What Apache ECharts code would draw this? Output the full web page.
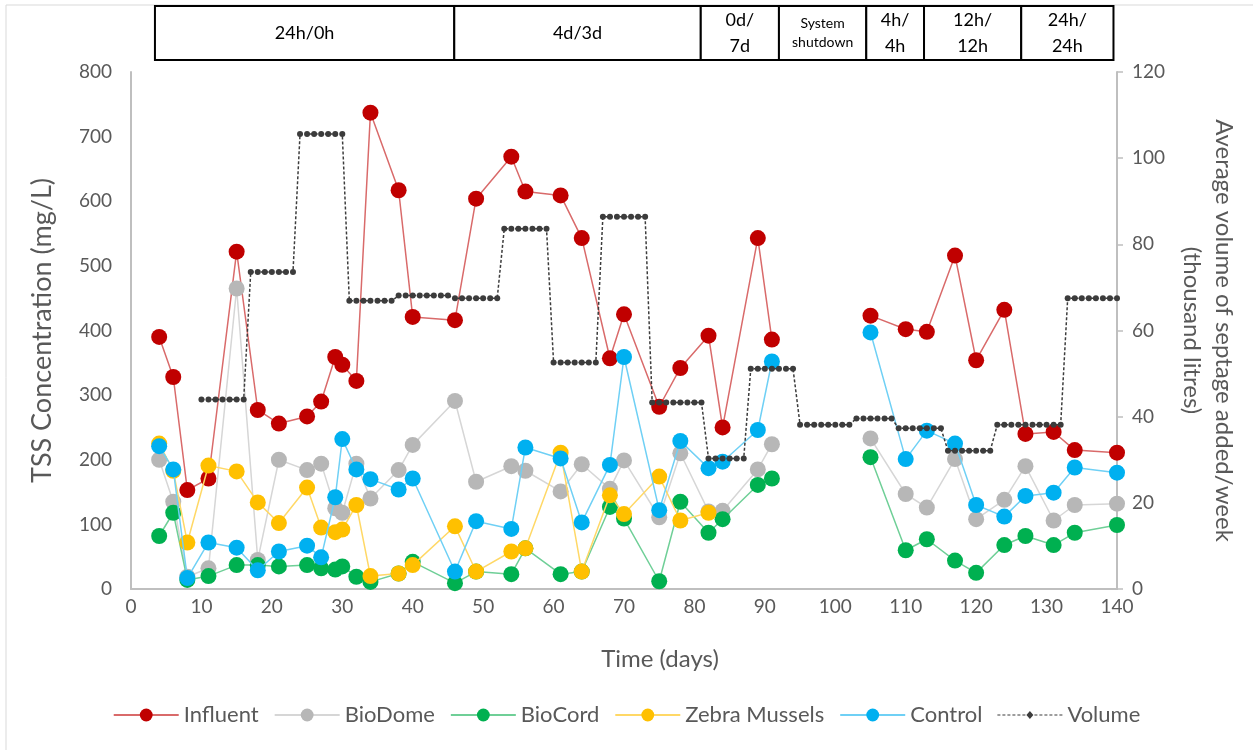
<!DOCTYPE html>
<html>
<head>
<meta charset="utf-8">
<script src="https://cdn.jsdelivr.net/npm/echarts@6/dist/echarts.min.js"></script>
<style>
  html, body { margin: 0; padding: 0; background: #fff; }
  #chart { width: 1253px; height: 750px; }
</style>
</head>
<body>
<div id="chart"></div>
<script>
// Sampling days (days since start-up)
const sampleDays = [4, 6, 8, 11, 15, 18, 21, 25, 27, 29, 30, 32, 34, 38, 40, 46, 49, 54, 56, 61, 64, 68, 70, 75, 78, 82, 84, 89, 91,
                    105, 110, 113, 117, 120, 124, 127, 131, 134, 140];

// TSS concentrations (mg/L)
const influent = [390, 328, 153, 171, 522, 277, 256, 267, 290, 359, 347, 322, 737, 617, 421, 416, 604, 669, 615, 609, 543, 357, 425, 282, 342, 392, 250, 543, 386,
                  423, 402, 398, 516, 354, 432, 240, 243, 215, 211];
const bioDome = [200, 135, 19, 32, 465, 45, 200, 184, 194, 125, 118, 194, 140, 184, 223, 291, 166, 190, 183, 151, 193, 155, 199, 111, 210, 120, 121, 185, 224,
                 233, 147, 126, 201, 108, 138, 190, 106, 130, 132];
const bioCord = [82, 118, 14, 20, 37, 37, 35, 37, 32, 30, 35, 19, 11, 24, 42, 9, 27, 23, 63, 23, 27, 127, 109, 12, 135, 87, 108, 161, 171,
                 204, 60, 77, 44, 25, 68, 82, 68, 87, 99];
const zebraMussels = [225, 183, 72, 191, 182, 134, 102, 157, 95, 88, 92, 130, 20, 24, 37, 97, 27, 58, 63, 211, 27, 145, 116, 174, 106, 118];
const control = [221, 185, 17, 72, 64, 29, 58, 67, 49, 142, 232, 185, 170, 154, 171, 27, 105, 93, 219, 202, 103, 192, 359, 122, 229, 187, 197, 246, 352,
                 397, 201, 245, 225, 130, 112, 144, 149, 188, 180];

// Average septage volume added per week (thousand litres), one value per day from day 10
const volumeFirstDay = 10;
const volume = [
  44.0, 44.0, 44.0, 44.0, 44.0, 44.0, 44.0,
  73.6, 73.6, 73.6, 73.6, 73.6, 73.6, 73.6,
  105.6, 105.6, 105.6, 105.6, 105.6, 105.6, 105.6,
  66.9, 66.9, 66.9, 66.9, 66.9, 66.9, 66.9,
  68.1, 68.1, 68.1, 68.1, 68.1, 68.1, 68.1, 68.1,
  67.5, 67.5, 67.5, 67.5, 67.5, 67.5, 67.5,
  83.6, 83.6, 83.6, 83.6, 83.6, 83.6, 83.6,
  52.6, 52.6, 52.6, 52.6, 52.6, 52.6, 52.6,
  86.4, 86.4, 86.4, 86.4, 86.4, 86.4, 86.4,
  43.3, 43.3, 43.3, 43.3, 43.3, 43.3, 43.3, 43.3,
  30.3, 30.3, 30.3, 30.3, 30.3, 30.3,
  51.1, 51.1, 51.1, 51.1, 51.1, 51.1, 51.1,
  38.1, 38.1, 38.1, 38.1, 38.1, 38.1, 38.1, 38.1,
  39.6, 39.6, 39.6, 39.6, 39.6, 39.6,
  37.3, 37.3, 37.3, 37.3, 37.3, 37.3, 37.3,
  32.1, 32.1, 32.1, 32.1, 32.1, 32.1, 32.1,
  38.1, 38.1, 38.1, 38.1, 38.1, 38.1, 38.1, 38.1, 38.1, 38.1,
  67.5, 67.5, 67.5, 67.5, 67.5, 67.5, 67.5, 67.5
];

// Feeding/resting regimes shown above the plot (day boundaries)
const phaseNames = ['24h/0h', '4d/3d', '0d/\n7d', 'System\nshutdown', '4h/\n4h', '12h/\n12h', '24h/\n24h'];
const phaseBounds = [3.4, 45.9, 80.9, 92.0, 104.4, 112.6, 126.4, 139.5];

const FONT = 'Lato';
const TEXT = '#595959';
const AXIS = '#bfbfbf';

// Legend glyph for the volume series: short dashes with a small diamond in the middle
const dottedDiamondIcon = 'path://' +
  [0, 5, 10, 15, 20, 25, 37, 42, 47, 52, 57, 62].map(x => `M${x} 3.4h3v1.2h-3z`).join(' ') +
  ' M32.5 0L36 4L32.5 8L29 4Z';

// Pair values with days; leave a break across the shutdown gap
function toPoints(values) {
  const pts = [];
  values.forEach((v, i) => {
    if (i > 0 && sampleDays[i] - sampleDays[i - 1] > 10) pts.push([(sampleDays[i] + sampleDays[i - 1]) / 2, null]);
    pts.push([sampleDays[i], v]);
  });
  return pts;
}

function tssSeries(name, values, fill, line, z) {
  return {
    name, type: 'line', xAxisIndex: 0, yAxisIndex: 0,
    data: toPoints(values),
    symbol: 'circle', symbolSize: 16,
    itemStyle: { color: fill },
    lineStyle: { color: line, width: 1.5 },
    connectNulls: false,
    emphasis: { disabled: true },
    z
  };
}

const chart = echarts.init(document.getElementById('chart'), null, { renderer: 'canvas' });

chart.setOption({
  animation: false,
  backgroundColor: '#fff',
  textStyle: { fontFamily: FONT },
  graphic: [
    { type: 'line', shape: { x1: 6, y1: 5, x2: 1253, y2: 5 }, style: { stroke: '#d9d9d9', lineWidth: 1 } },
    { type: 'line', shape: { x1: 6, y1: 5, x2: 6, y2: 750 }, style: { stroke: '#d9d9d9', lineWidth: 1 } }
  ],
  legend: {
    data: ['Influent', 'BioDome', 'BioCord', 'Zebra Mussels', 'Control', { name: 'Volume', icon: dottedDiamondIcon }],
    left: 'center', top: 699,
    itemWidth: 65, itemHeight: 16, itemGap: 15,
    textStyle: { fontSize: 22, color: TEXT, fontFamily: FONT }
  },
  grid: [
    { left: 131, right: 136, top: 72, bottom: 161 },
    { left: 131, right: 136, top: 6, height: 54 }
  ],
  xAxis: [
    {
      gridIndex: 0, type: 'value', min: 0, max: 140, interval: 10,
      name: 'Time (days)', nameLocation: 'middle', nameGap: 58,
      nameTextStyle: { fontSize: 24, color: TEXT, fontFamily: FONT, padding: [0, 0, 0, 72] },
      axisLine: { show: true, lineStyle: { color: AXIS, width: 2 } },
      axisTick: { show: false },
      axisLabel: { fontSize: 19, color: TEXT, margin: 8, fontFamily: FONT },
      splitLine: { show: false }
    },
    { gridIndex: 1, type: 'value', min: 0, max: 140, show: false }
  ],
  yAxis: [
    {
      gridIndex: 0, type: 'value', min: 0, max: 800, interval: 100,
      name: 'TSS Concentration (mg/L)', nameLocation: 'middle', nameGap: 75,
      nameTextStyle: { fontSize: 27, color: TEXT, fontFamily: FONT },
      axisLine: { show: true, lineStyle: { color: AXIS, width: 2 } },
      axisTick: { show: false },
      axisLabel: { fontSize: 19, color: TEXT, margin: 19, fontFamily: FONT },
      splitLine: { show: false }
    },
    {
      gridIndex: 0, type: 'value', position: 'right', min: 0, max: 120, interval: 20,
      name: 'Average volume of septage added/week\n(thousand litres)',
      nameLocation: 'middle', nameRotate: -90, nameGap: 58,
      nameTextStyle: { fontSize: 24, color: TEXT, fontFamily: FONT, lineHeight: 32 },
      axisLine: { show: true, lineStyle: { color: AXIS, width: 2 } },
      axisTick: { show: true, length: 6, lineStyle: { color: AXIS, width: 1.5 } },
      axisLabel: { fontSize: 19, color: TEXT, margin: 15, fontFamily: FONT },
      splitLine: { show: false }
    },
    { gridIndex: 1, type: 'value', min: 0, max: 1, show: false }
  ],
  series: [
    {
      name: 'phases', type: 'line', xAxisIndex: 1, yAxisIndex: 2, data: [], silent: true,
      markArea: {
        silent: true,
        itemStyle: { color: '#fff', borderColor: '#000', borderWidth: 2 },
        label: { show: true, position: 'inside', color: '#000', fontSize: 18, lineHeight: 26, fontFamily: FONT },
        data: phaseNames.map((n, i) => {
          const small = n.startsWith('System');
          return [
            { name: n, xAxis: phaseBounds[i], label: small ? { fontSize: 14, lineHeight: 19 } : undefined },
            { xAxis: phaseBounds[i + 1] }
          ];
        })
      }
    },
    tssSeries('Influent', influent, '#c00000', '#d96a6a', 2),
    tssSeries('BioDome', bioDome, '#b7b7b7', '#d6d6d6', 3),
    tssSeries('BioCord', bioCord, '#00b050', '#6fcf97', 4),
    tssSeries('Zebra Mussels', zebraMussels, '#ffc000', '#ffd866', 5),
    tssSeries('Control', control, '#00b0f0', '#6fd0f5', 6),
    {
      name: 'Volume', type: 'line', xAxisIndex: 0, yAxisIndex: 1,
      data: volume.map((v, i) => [volumeFirstDay + i, v]),
      symbol: 'circle', symbolSize: 6,
      itemStyle: { color: '#3c3c3c' },
      lineStyle: { color: '#3c3c3c', width: 1.5, type: [3, 2] },
      emphasis: { disabled: true },
      z: 7
    }
  ]
});
</script>
</body>
</html>
